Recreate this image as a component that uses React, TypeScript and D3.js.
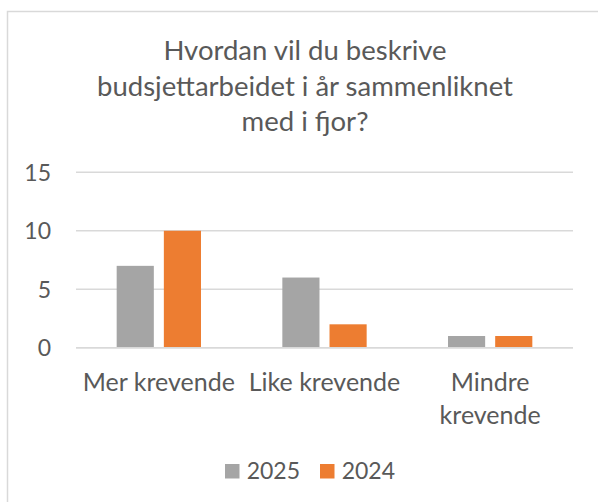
import React, { useEffect, useRef } from 'react';
import * as d3 from 'd3';

// chart data
const categories = ['Mer krevende', 'Like krevende', 'Mindre krevende'];
const series = ['2025', '2024'];
const values2025 = [7, 6, 1];
const values2024 = [10, 2, 1];
const yTicks = [0, 5, 10, 15];
const titleLines = ['Hvordan vil du beskrive', 'budsjettarbeidet i år sammenliknet', 'med i fjor?'];
// category labels as Excel wraps them
const categoryLines = [['Mer krevende'], ['Like krevende'], ['Mindre', 'krevende']];

const colors = ['#a5a5a5', '#ed7d31'];
const textColor = '#595959';
const gridColor = '#d9d9d9';
const font = 'Lato, "Open Sans", sans-serif';

const App: React.FC = () => {
  const ref = useRef<SVGSVGElement>(null);

  useEffect(() => {
    if (!ref.current) return;
    const svg = d3.select(ref.current);
    svg.selectAll('*').remove();

    const width = 598;
    const height = 502;
    const plot = { left: 76, right: 573, top: 172.3, bottom: 347.7 };

    // chart area border (cropped at right / bottom like the source)
    svg.append('rect')
      .attr('x', 7.5).attr('y', 11.5)
      .attr('width', width + 50).attr('height', height + 50)
      .attr('fill', '#fff')
      .attr('stroke', gridColor)
      .attr('stroke-width', 1.5);

    // title
    const title = svg.append('text')
      .attr('text-anchor', 'middle')
      .attr('fill', textColor)
      .style('font-family', font)
      .style('font-size', '27.5px');
    titleLines.forEach((line, i) => {
      title.append('tspan')
        .attr('x', 305)
        .attr('y', 60 + i * 35.7)
        .text(line);
    });

    const y = d3.scaleLinear().domain([0, 15]).range([plot.bottom, plot.top]);
    const x0 = d3.scaleBand<string>().domain(categories).range([plot.left, plot.right]).padding(0);

    // gridlines
    svg.append('g')
      .selectAll('line')
      .data(yTicks)
      .enter().append('line')
      .attr('x1', plot.left).attr('x2', plot.right)
      .attr('y1', d => y(d)).attr('y2', d => y(d))
      .attr('stroke', gridColor)
      .attr('stroke-width', 1.5);

    // y tick labels
    svg.append('g')
      .selectAll('text')
      .data(yTicks)
      .enter().append('text')
      .attr('x', 51)
      .attr('y', d => y(d))
      .attr('dy', '0.36em')
      .attr('text-anchor', 'end')
      .attr('fill', textColor)
      .style('font-family', font)
      .style('font-size', '23px')
      .text(d => d);

    // bars: gap width 219%, overlap -27%
    const gapWidth = 2.19;
    const overlap = -0.27;
    const barW = x0.bandwidth() / (2 - overlap + gapWidth);
    const seriesValues = [values2025, values2024];

    seriesValues.forEach((vals, si) => {
      svg.append('g')
        .selectAll('rect')
        .data(vals)
        .enter().append('rect')
        .attr('x', (_, i) => {
          const center = (x0(categories[i]) ?? 0) + x0.bandwidth() / 2;
          const groupW = barW * (2 - overlap);
          return center - groupW / 2 + si * barW * (1 - overlap);
        })
        .attr('y', d => y(d))
        .attr('width', barW)
        .attr('height', d => y(0) - y(d))
        .attr('fill', colors[si]);
    });

    // redraw baseline on top
    svg.append('line')
      .attr('x1', plot.left).attr('x2', plot.right)
      .attr('y1', y(0)).attr('y2', y(0))
      .attr('stroke', gridColor)
      .attr('stroke-width', 1.5);

    // category labels
    categoryLines.forEach((lines, i) => {
      const cx = (x0(categories[i]) ?? 0) + x0.bandwidth() / 2;
      const t = svg.append('text')
        .attr('text-anchor', 'middle')
        .attr('fill', textColor)
        .style('font-family', font)
        .style('font-size', '25px');
      lines.forEach((line, j) => {
        t.append('tspan').attr('x', cx).attr('y', 390.7 + j * 33).text(line);
      });
    });

    // legend
    const legendX = [225, 320];
    series.forEach((s, i) => {
      svg.append('rect')
        .attr('x', legendX[i]).attr('y', 464)
        .attr('width', 14.5).attr('height', 14.5)
        .attr('fill', colors[i]);
      svg.append('text')
        .attr('x', legendX[i] + 21.7)
        .attr('y', 478.7)
        .attr('fill', textColor)
        .style('font-family', font)
        .style('font-size', '23px')
        .text(s);
    });
  }, []);

  return (
    <svg
      ref={ref}
      width={598}
      height={502}
      style={{ position: 'absolute', left: 0, top: 0, background: '#fff' }}
    />
  );
};

export default App;
